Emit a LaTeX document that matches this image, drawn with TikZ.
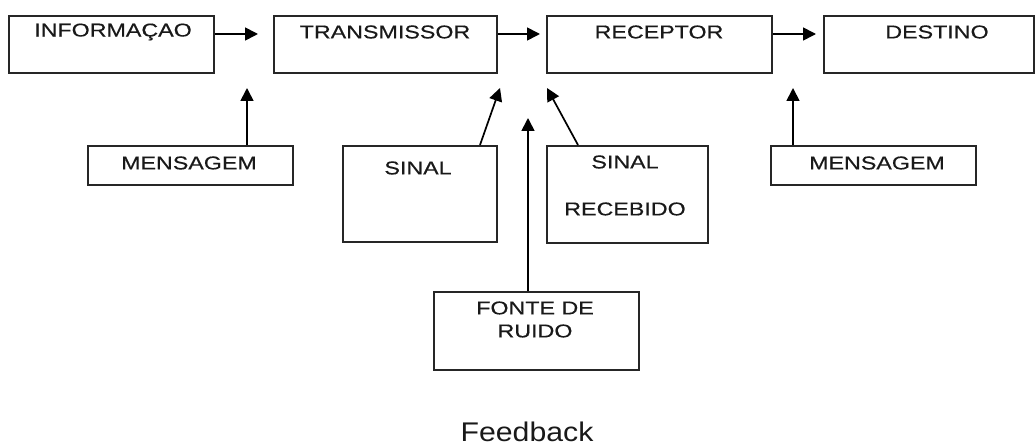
\documentclass[tikz,border=0pt]{standalone}
\usepackage{fontspec}
\setmainfont{Liberation Sans}
\newfontfamily\diagfont[FakeStretch=1.25,FakeBold=0.4]{Liberation Sans}
\newfontfamily\fbfont[FakeStretch=1.12]{Liberation Sans}
\usetikzlibrary{arrows.meta}
\begin{document}
\begin{tikzpicture}[x=1pt,y=-1pt,
  box/.style={draw=black!85,line width=2pt,rectangle,inner sep=0pt},
  txt/.style={inner sep=0pt,font=\diagfont\fontsize{18.6}{22}\selectfont,text=black!90},
  arr/.style={line width=1.7pt,-{Triangle[length=13pt,width=13pt]}}]
\useasboundingbox (0,0) rectangle (1036,446);
% boxes
\node[box,minimum width=205,minimum height=57] (info) at (111.5,44.5) {};
\node[box,minimum width=223,minimum height=57] (trans) at (385.5,44.5) {};
\node[box,minimum width=225,minimum height=57] (recep) at (659.5,44.5) {};
\node[box,minimum width=210,minimum height=57] (dest) at (929,44.5) {};
\node[box,minimum width=205,minimum height=39] (mens1) at (190.5,165.5) {};
\node[box,minimum width=154,minimum height=96] (sinal) at (420,194) {};
\node[box,minimum width=161,minimum height=97] (sinrec) at (627.5,194.5) {};
\node[box,minimum width=205,minimum height=39] (mens2) at (873.5,165.5) {};
\node[box,minimum width=205,minimum height=78] (fonte) at (536.5,331) {};
% texts
\node[txt] (infoT) at (113,32) {INFORMAÇAO};
\node[txt] (transT) at (385,32) {TRANSMISSOR};
\node[txt] (recepT) at (659,32) {RECEPTOR};
\node[txt] (destT) at (937,32) {DESTINO};
\node[txt] (mens1T) at (189,163) {MENSAGEM};
\node[txt] (sinalT) at (418,168) {SINAL};
\node[txt] (sinrecT1) at (625,162) {SINAL};
\node[txt] (sinrecT2) at (625,209) {RECEBIDO};
\node[txt] (mens2T) at (877,163) {MENSAGEM};
\node[txt] (fonteT1) at (535,308) {FONTE DE};
\node[txt] (fonteT2) at (535,331) {RUIDO};
\node[inner sep=0pt,font=\fbfont\fontsize{27}{30}\selectfont,text=black!90] (fb) at (527,432) {Feedback};
% arrow tips
\coordinate (ia) at (258,34);
\coordinate (ta) at (540,34);
\coordinate (ra) at (816,34);
\coordinate (m1a) at (247,88);
\coordinate (sa) at (500,88);
\coordinate (fa) at (528,118);
\coordinate (sra) at (547,88);
\coordinate (m2a) at (793,88);
\coordinate (sas) at (480,146);
\coordinate (sras) at (578,146);
% connectors
\draw[arr] (info.north east |- ia) -- (ia);
\draw[arr] (trans.north east |- ta) -- (ta);
\draw[arr] (recep.north east |- ra) -- (ra);
\draw[arr] (mens1.north -| m1a) -- (m1a);
\draw[arr] (sinal.north -| sas) -- (sa);
\draw[arr] (fonte.north -| fa) -- (fa);
\draw[arr] (sinrec.north -| sras) -- (sra);
\draw[arr] (mens2.north -| m2a) -- (m2a);
\end{tikzpicture}
\end{document}
